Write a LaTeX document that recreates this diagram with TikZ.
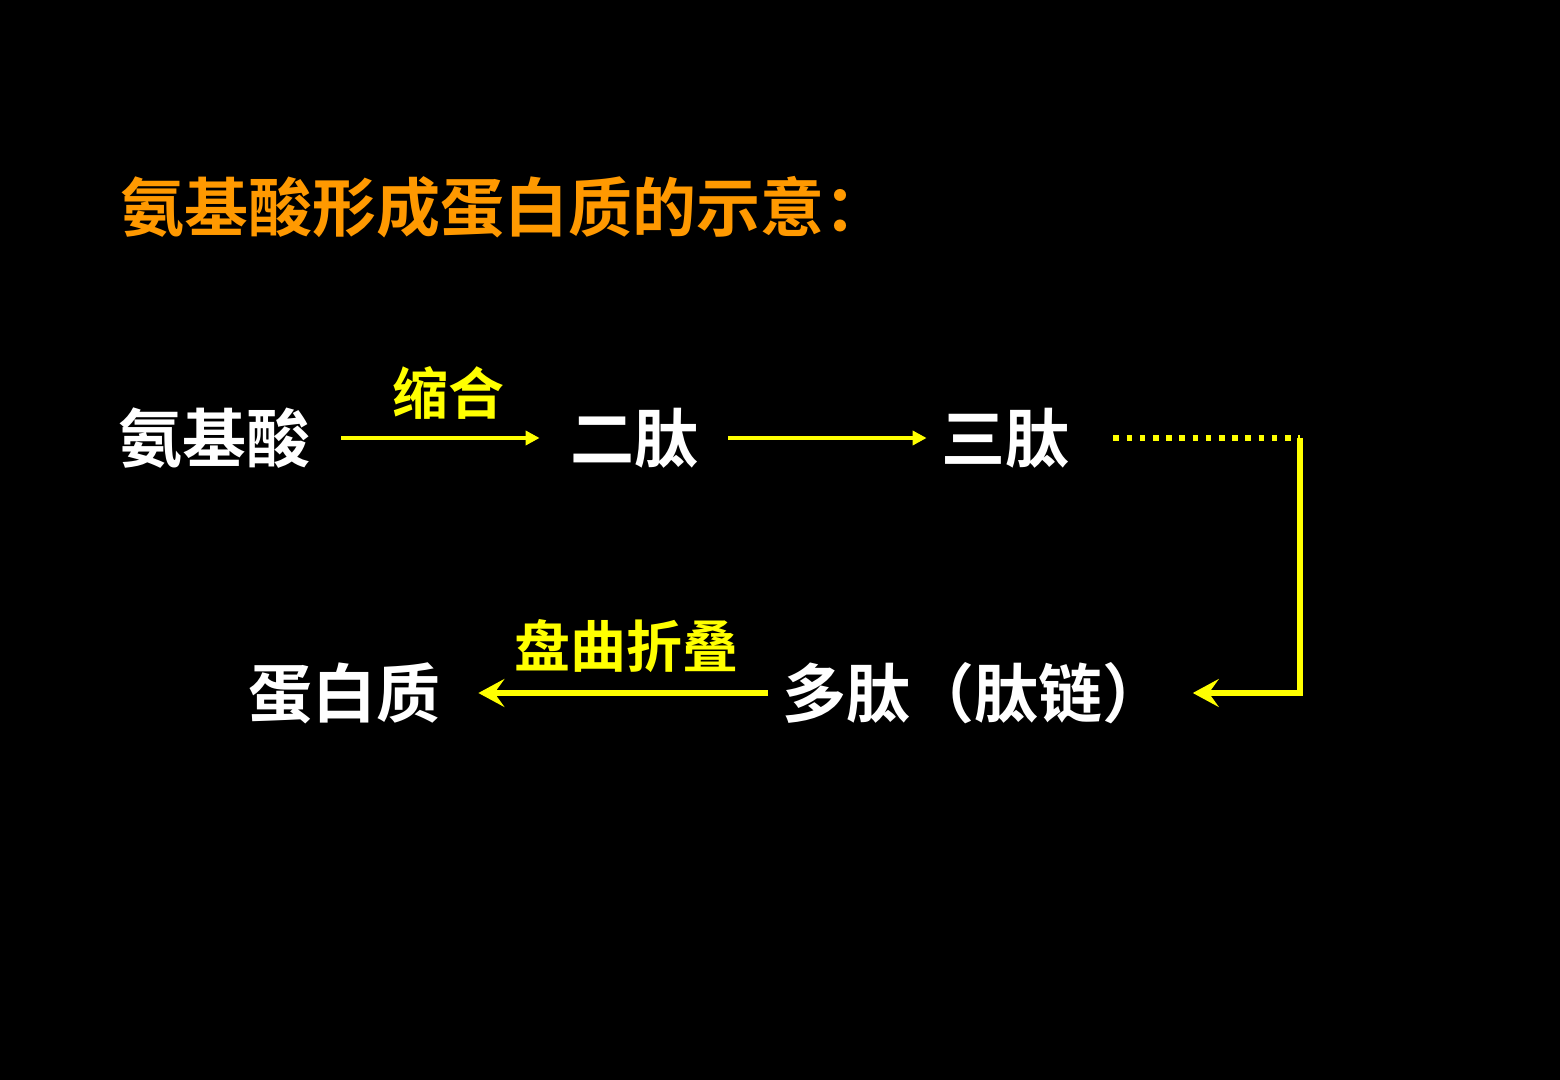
\documentclass[tikz,border=0pt]{standalone}
\usepackage{fontspec}
\setmainfont{Noto Sans CJK SC}[BoldFont={Noto Sans CJK SC Bold}]
\usepackage{tikz}
\usetikzlibrary{arrows.meta, positioning}

\definecolor{titleorange}{HTML}{FF9900}
\definecolor{flowyellow}{HTML}{FFFF00}

\begin{document}
\begin{tikzpicture}[
            x=0.5pt, y=-0.5pt,
            stage/.style={text=white, inner xsep=15pt, inner ysep=0pt, font=\bfseries\fontsize{32pt}{36pt}\selectfont},
            lbl/.style={text=flowyellow, inner sep=0pt, font=\bfseries\fontsize{28pt}{32pt}\selectfont},
            flow/.style={-{Triangle[length=7pt, width=7pt]}, line width=2.4pt, flowyellow},
            flowback/.style={-{Stealth[length=13pt, width=14pt, inset=5pt]}, line width=2.7pt, flowyellow},
            dotline/.style={line width=2.8pt, flowyellow, dash pattern=on 2.8pt off 3.8pt}
        ]

        % 1. Black slide background, fixes the page size
        \fill[black] (0,0) rectangle (1560,1080);
        \useasboundingbox (0,0) rectangle (1560,1080);

        % 2. Y-coordinates of the two rows
        \def\yTitle{207}
        \def\yTop{438}
        \def\yLow{693}

        % 3. Title
        \node[anchor=west, inner sep=0pt, text=titleorange, font=\bfseries\fontsize{32pt}{36pt}\selectfont] (title) at (120, \yTitle) {氨基酸形成蛋白质的示意：};

        % --- TOP ROW ---
        \node[stage] (amino) at (215, \yTop) {氨基酸};
        \node[stage] (dipep) at (634, \yTop) {二肽};
        \node[stage] (tripep) at (1005, \yTop) {三肽};
        \coordinate (turn) at (1300, \yTop);

        \draw[flow] (amino) -- node[lbl, above=8pt, pos=0.54] (condense) {缩合} (dipep);
        \draw[flow, shorten >=-8pt] (dipep) -- (tripep);
        \draw[dotline, shorten <=7pt] (tripep) -- (turn);

        % --- BOTTOM ROW ---
        \node[stage, anchor=west, inner xsep=0pt] (poly) at (782, \yLow) {多肽（肽链）};
        \node[stage] (protein) at (344, \yLow) {蛋白质};

        \draw[flowback, shorten >=13pt] (turn) |- (poly);
        \draw[flowback, shorten <=7pt, shorten >=4pt] (poly) -- node[lbl, above=9pt] (fold) {盘曲折叠} (protein);

\end{tikzpicture}
\end{document}
